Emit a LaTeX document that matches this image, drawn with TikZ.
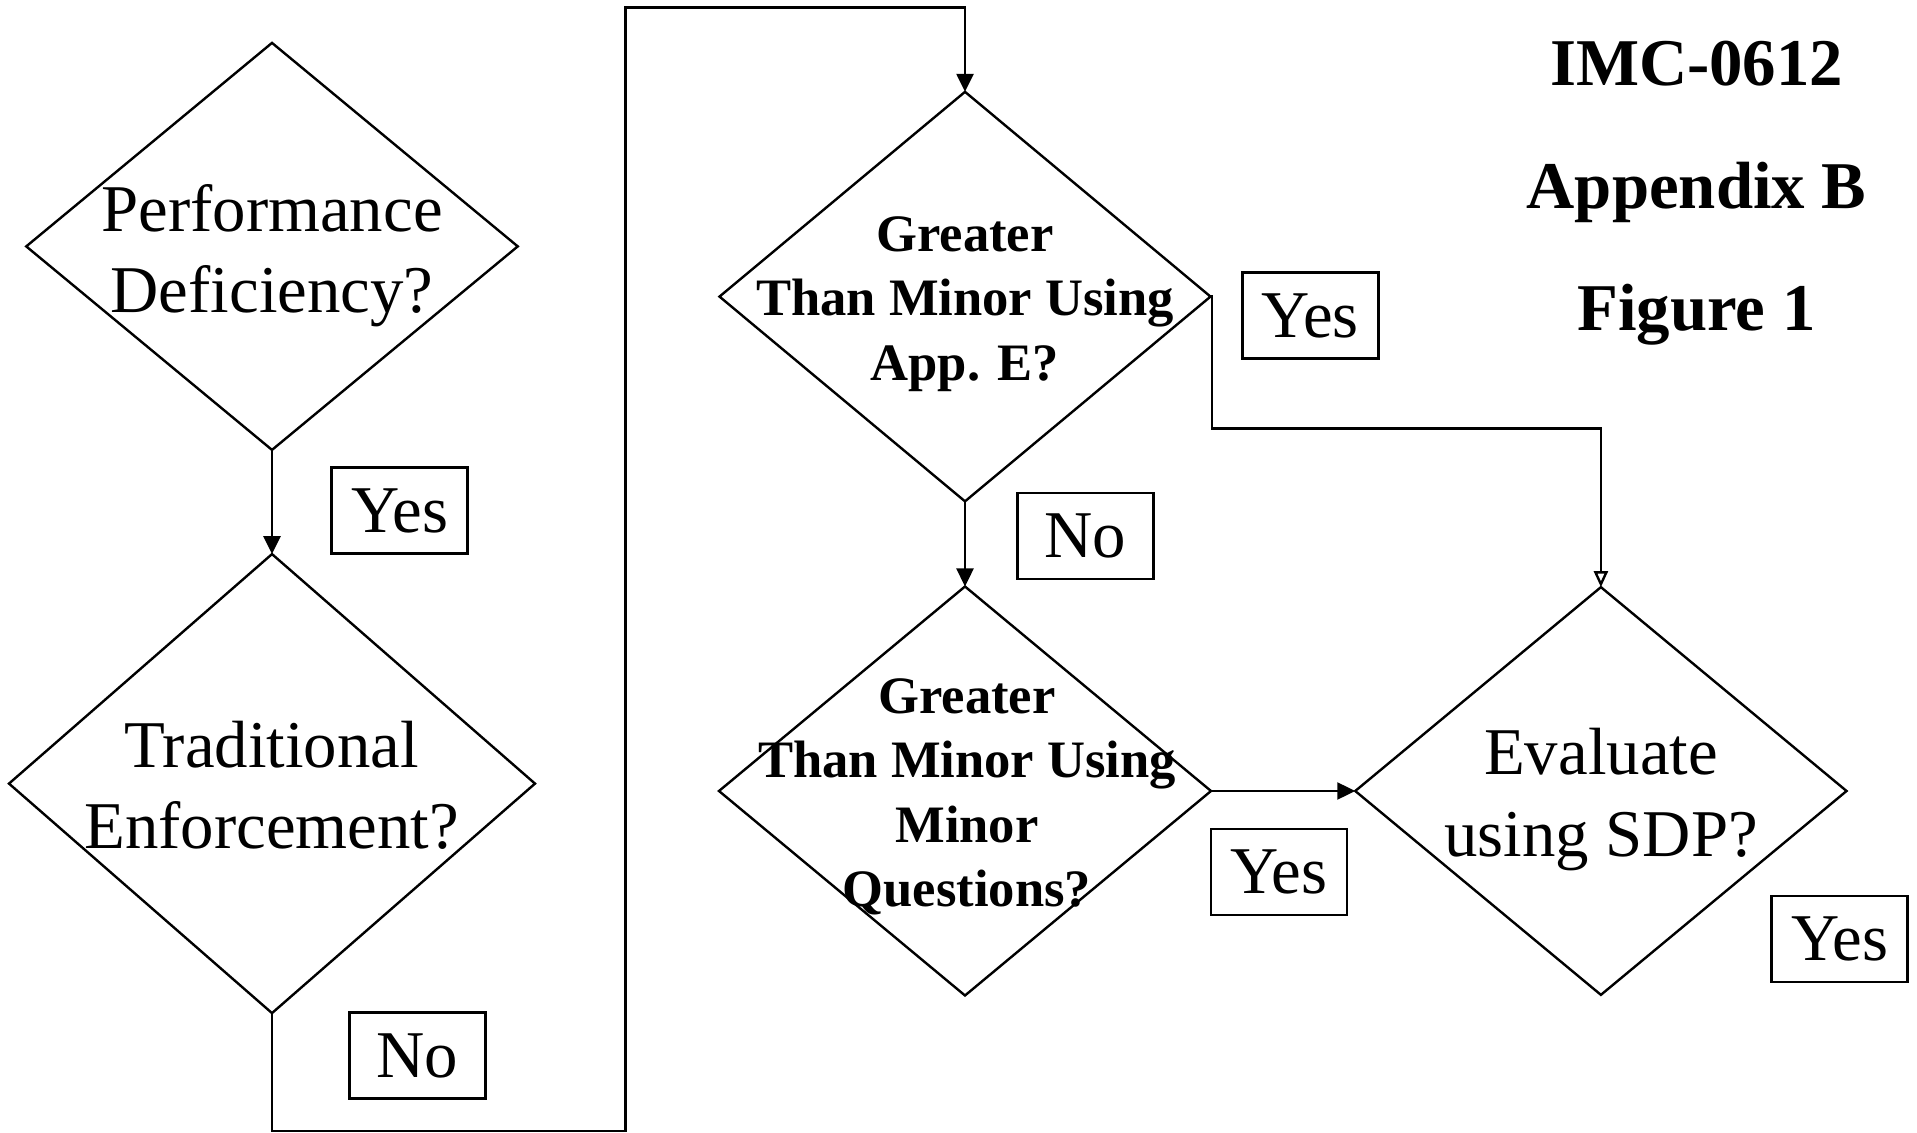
\documentclass[tikz,border=0pt]{standalone}
\usepackage{fontspec}
\setmainfont{Liberation Serif}
\usetikzlibrary{shapes.geometric,arrows.meta}
\begin{document}
\begin{tikzpicture}[x=0.5pt,y=-0.5pt,
  line width=1.2pt,
  decision/.style={diamond, draw, inner sep=0pt, outer sep=0pt, line width=1.2pt},
  qtext/.style={inner sep=0pt, align=center, font=\fontsize{33.4pt}{40.75pt}\selectfont},
  btext/.style={inner sep=0pt, align=center, font=\bfseries\fontsize{26.3pt}{32.25pt}\selectfont},
  answer/.style={draw, rectangle, line width=1.3pt, minimum width=68pt, minimum height=43pt,
                 inner sep=0pt, font=\fontsize{33.4pt}{40pt}\selectfont},
  heading/.style={anchor=base, inner sep=0pt, font=\bfseries\fontsize{33.4pt}{40pt}\selectfont},
  flow/.style={-{Triangle[length=9pt,width=8.5pt]}},
  flowopen/.style={-{Triangle[open,length=8pt,width=7pt]}}]

\useasboundingbox (0,0) rectangle (1917,1133);

% decision diamonds
\node[decision, minimum width=245.75pt, minimum height=203.5pt] (d1) at (272,246.4) {};
\node[decision, minimum width=263pt, minimum height=229.5pt] (d2) at (272,783.6) {};
\node[decision, minimum width=245.5pt, minimum height=204.75pt] (d3) at (965,296.6) {};
\node[decision, minimum width=246pt, minimum height=204.5pt] (d4) at (965,791) {};
\node[decision, minimum width=245.65pt, minimum height=203.85pt] (d5) at (1600.9,791) {};

% diamond texts
\node[qtext] (t1) at (272,255.5) {Performance\\Deficiency?};
\node[qtext] (t2) at (271.7,785.5) {Traditional\\Enforcement?};
\node[btext] (t3) at (965,304) {Greater\\Than Minor Using\\App. E?};
\node[btext] (t4) at (967,797) {Greater\\Than Minor Using\\Minor\\Questions?};
\node[qtext] (t5) at (1601,799.5) {Evaluate\\using SDP?};

% answer boxes
\node[answer] (y1) at (399.6,510.7) {Yes};
\node[answer] (n1) at (417.2,1055.5) {No};
\node[answer] (y2) at (1310.2,315.5) {Yes};
\node[answer] (n2) at (1085.5,535.9) {No};
\node[answer] (y3) at (1279,872) {Yes};
\node[answer] (y4) at (1839.7,938.8) {Yes};

% heading
\node[heading] (h1) at (1696.6,86) {IMC-0612};
\node[heading] (h2) at (1696.6,208.6) {Appendix B};
\node[heading] (h3) at (1696.6,331) {Figure 1};

% connectors
\coordinate (loopbl) at (625.5,1131);
\coordinate (looptr) at (625.5,7.5);
\coordinate (bendyes) at (1212,428.6);

\draw[flow] (d1.south) -- (d2.north);
\draw[flow] (d2.south) |- (loopbl) -- (looptr) -| (d3.north);
\draw[flow] (d3.south) -- (d4.north);
\draw[flowopen] (d3.east) -| (bendyes) -| (d5.north);
\draw[flow] (d4.east) -- (d5.west);
\end{tikzpicture}
\end{document}
